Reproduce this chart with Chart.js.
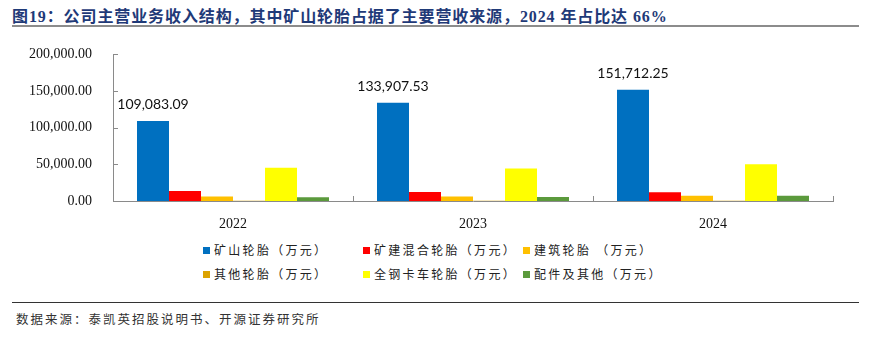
<!DOCTYPE html>
<html>
<head>
<meta charset="utf-8">
<script src="https://cdn.jsdelivr.net/npm/chart.js@4.4.1/dist/chart.umd.min.js"></script>
<style>
  html, body { margin: 0; padding: 0; background: #fff; }
  #page { position: relative; width: 878px; height: 349px; overflow: hidden; }
  #title {
    position: absolute; left: 12px; top: 3px; white-space: nowrap;
    font: bold 16px "Liberation Serif", "Noto Sans CJK SC", serif;
    letter-spacing: 0.9px; color: #1f3a78;
  }
  #titleLine { position: absolute; left: 12px; top: 25px; width: 847px; height: 2px; background: #8c8c8c; }
  #chartBox { position: absolute; left: 0; top: 33px; width: 878px; height: 197px; }
  #legend { position: absolute; left: 0; top: 240px; width: 878px; height: 45px; }
  .item { position: absolute; white-space: nowrap; font: 12px "Noto Sans CJK SC", sans-serif; letter-spacing: 2.3px; color: #222; }
  .item i { display: inline-block; width: 7px; height: 7px; margin-right: 4px; vertical-align: 1px; }
  #srcLine { position: absolute; left: 12px; top: 302px; width: 847px; height: 1px; background: #333; }
  #source {
    position: absolute; left: 16px; top: 309px; white-space: nowrap;
    font: 12.5px "Noto Sans CJK SC", sans-serif; letter-spacing: 2px; color: #333;
  }
</style>
</head>
<body>
<div id="page">
  <div id="title">图19：公司主营业务收入结构，其中矿山轮胎占据了主要营收来源，2024 年占比达 66%</div>
  <div id="titleLine"></div>
  <div id="chartBox"><canvas id="revChart"></canvas></div>
  <div id="legend"></div>
  <div id="srcLine"></div>
  <div id="source">数据来源：泰凯英招股说明书、开源证券研究所</div>
</div>
<script>
// 年份
const years = ['2022', '2023', '2024'];

// 各业务收入（万元）
const miningTyre = [109083.09, 133907.53, 151712.25];
const miningMixTyre = [13500, 12200, 11800];
const buildingTyre = [6300, 6300, 7200];
const otherTyre = [350, 300, 250];
const truckTyre = [45500, 44200, 50000];
const partsOther = [5000, 5400, 7200];

// y轴刻度
const yTicks = [0, 50000, 100000, 150000, 200000];

const seriesNames = ['矿山轮胎（万元）', '矿建混合轮胎（万元）', '建筑轮胎 （万元）', '其他轮胎（万元）', '全钢卡车轮胎（万元）', '配件及其他（万元）'];
const seriesData = [miningTyre, miningMixTyre, buildingTyre, otherTyre, truckTyre, partsOther];
const seriesColors = ['#0070c0', '#ff0000', '#ffc000', '#dca300', '#ffff00', '#5b9a3c'];

function fmt(v) {
    return v.toLocaleString('en-US', { minimumFractionDigits: 2, maximumFractionDigits: 2 });
}

// 坐标轴向内的小刻度线
const innerTicks = {
    id: 'innerTicks',
    afterDraw(chart) {
        const ctx = chart.ctx;
        const x = chart.scales.x, y = chart.scales.y;
        ctx.save();
        ctx.strokeStyle = '#8a8a8a';
        ctx.lineWidth = 1;
        ctx.beginPath();
        yTicks.forEach(function(v) {
            const py = Math.round(y.getPixelForValue(v)) + 0.5;
            ctx.moveTo(x.left, py);
            ctx.lineTo(x.left + 5, py);
        });
        // 类别之间的分隔刻度
        for (let i = 1; i <= years.length; i++) {
            const bx = Math.round(x.left + (x.right - x.left) * i / years.length) + 0.5;
            ctx.moveTo(bx, y.bottom);
            ctx.lineTo(bx, y.bottom - 5);
        }
        ctx.stroke();
        ctx.restore();
    }
};

// 矿山轮胎柱顶数值
const topLabels = {
    id: 'topLabels',
    afterDatasetsDraw(chart) {
        const ctx = chart.ctx;
        const meta = chart.getDatasetMeta(0);
        ctx.save();
        ctx.font = '14px Lato, "Liberation Sans", sans-serif';
        ctx.fillStyle = '#111';
        ctx.textAlign = 'center';
        ctx.textBaseline = 'alphabetic';
        meta.data.forEach(function(bar, i) {
            ctx.fillText(fmt(miningTyre[i]), bar.x, bar.y - 12);
        });
        ctx.restore();
    }
};

new Chart(document.getElementById('revChart').getContext('2d'), {
    type: 'bar',
    data: {
        labels: years,
        datasets: seriesNames.map(function(name, i) {
            return {
                label: name,
                data: seriesData[i],
                backgroundColor: seriesColors[i],
                borderWidth: 0,
                categoryPercentage: 0.8,
                barPercentage: 1.0
            };
        })
    },
    options: {
        responsive: true,
        maintainAspectRatio: false,
        animation: false,
        layout: { padding: { top: 6, right: 45, left: 0, bottom: 0 } },
        plugins: {
            legend: { display: false },
            tooltip: { enabled: false }
        },
        scales: {
            x: {
                grid: { display: false },
                border: { display: true, color: '#8a8a8a', width: 1 },
                ticks: {
                    color: '#111',
                    font: { family: '"Liberation Serif", serif', size: 14 },
                    padding: 7
                },
                afterFit: function(scale) { scale.height = 29; }
            },
            y: {
                min: 0,
                max: 200000,
                grid: { display: false },
                border: { display: true, color: '#8a8a8a', width: 1 },
                afterBuildTicks: function(scale) {
                    scale.ticks = yTicks.map(function(v) { return { value: v }; });
                },
                ticks: {
                    color: '#111',
                    font: { family: '"Liberation Serif", serif', size: 14 },
                    padding: 13,
                    callback: function(v) { return fmt(v); }
                },
                afterFit: function(scale) { scale.width = 113; }
            }
        }
    },
    plugins: [innerTicks, topLabels]
});

// 图例：两行三列
const legendPos = [[203, 243], [363, 243], [523, 243], [203, 267], [363, 267], [523, 267]];
const legendBox = document.getElementById('legend');
seriesNames.forEach(function(name, i) {
    const el = document.createElement('div');
    el.className = 'item';
    el.style.left = legendPos[i][0] + 'px';
    el.style.top = (legendPos[i][1] - 240 - 2) + 'px';
    el.innerHTML = '<i style="background:' + seriesColors[i] + '"></i>' + name;
    legendBox.appendChild(el);
});
</script>
</body>
</html>
